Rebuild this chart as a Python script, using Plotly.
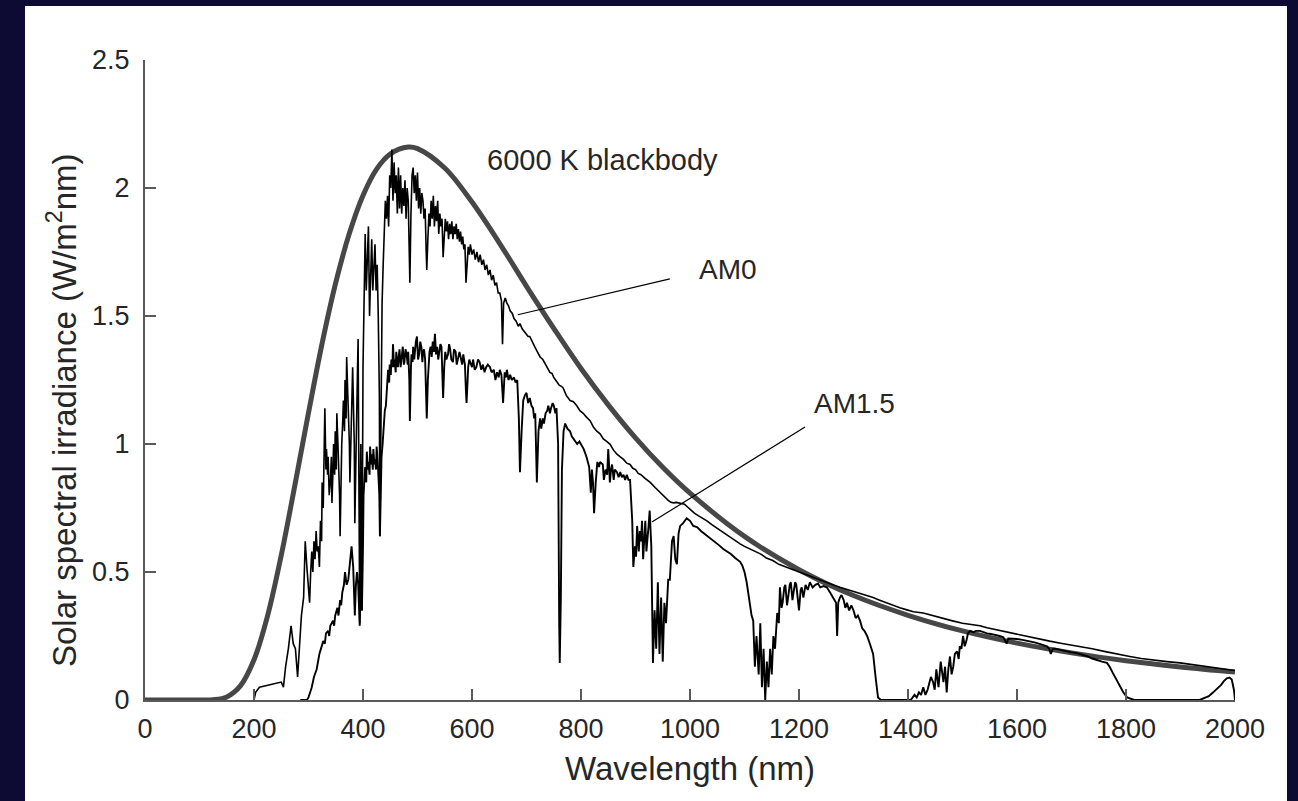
import plotly.graph_objects as go

# ---------------- data ----------------
# 6000 K blackbody curve, (wavelength nm, W/m^2/nm)
bb_points = [(0, 0), (100, 0), (125, 0.001), (150, 0.012), (175, 0.055), (200, 0.157),
             (225, 0.330), (250, 0.565), (275, 0.839), (300, 1.122), (325, 1.393),
             (350, 1.630), (375, 1.823), (400, 1.971), (425, 2.074), (450, 2.133),
             (483, 2.160), (500, 2.154), (550, 2.078), (600, 1.945), (650, 1.786),
             (700, 1.616), (750, 1.452), (800, 1.295), (850, 1.153), (900, 1.024),
             (950, 0.909), (1000, 0.808), (1100, 0.639), (1200, 0.509), (1300, 0.408),
             (1400, 0.331), (1500, 0.270), (1600, 0.222), (1700, 0.184), (1800, 0.153),
             (1900, 0.129), (2000, 0.109)]

# AM0 (extraterrestrial) spectrum
am0_points = [
    (200, 0), (203, 0.03), (210, 0.05), (220, 0.055), (230, 0.06), (240, 0.065), (250, 0.07),
    (254, 0.05), (258, 0.13), (263, 0.2), (268, 0.29), (272, 0.22), (276, 0.2), (280, 0.09),
    (283, 0.2), (287, 0.33), (291, 0.4), (294, 0.62), (297, 0.52), (300, 0.45), (302, 0.38),
    (304, 0.5), (306, 0.58), (308, 0.5), (310, 0.62), (312, 0.55), (314, 0.66), (316, 0.58),
    (318, 0.6), (320, 0.52), (322, 0.7), (324, 0.62), (325, 0.85), (327, 0.75), (328, 0.95),
    (330, 1.14), (332, 0.9), (333, 0.98), (335, 0.88), (336, 0.95), (338, 0.8), (340, 0.85),
    (342, 0.95), (343, 0.77), (345, 0.9), (346, 1.0), (348, 0.88), (349, 1.05), (351, 0.9),
    (352, 1.12), (354, 1.0), (355, 0.95), (357, 0.8), (358, 0.64), (360, 0.9), (361, 1.0),
    (363, 1.1), (364, 1.17), (366, 1.05), (367, 1.25), (369, 1.1), (370, 1.34), (372, 1.2),
    (373, 1.15), (375, 1.0), (376, 0.85), (378, 1.0), (379, 1.1), (381, 1.3), (382, 1.2),
    (384, 1.0), (385, 0.69), (387, 1.0), (388, 1.2), (390, 1.3), (391, 1.41), (392, 0.9),
    (394, 0.3), (395, 0.8), (396, 1.0), (397, 0.6), (398, 0.35), (400, 1.3), (402, 1.6),
    (404, 1.82), (406, 1.6), (408, 1.78), (410, 1.85), (412, 1.5), (414, 1.7), (416, 1.8),
    (418, 1.6), (420, 1.72), (422, 1.78), (424, 1.6), (426, 1.7), (428, 1.5), (430, 1.2),
    (431, 0.64), (433, 1.3), (435, 1.55), (437, 1.7), (439, 1.85), (441, 1.95), (443, 1.88),
    (445, 1.97), (447, 1.85), (449, 2.05), (451, 2.0), (453, 2.15), (455, 1.95), (457, 2.1),
    (459, 1.98), (461, 2.05), (463, 1.9), (465, 2.08), (467, 1.92), (469, 2.05), (471, 1.9),
    (473, 2.0), (475, 1.93), (477, 2.03), (479, 1.88), (481, 2.0), (483, 1.95), (485, 1.8),
    (486, 1.63), (488, 1.9), (490, 2.05), (492, 2.08), (494, 1.98), (496, 2.05), (498, 1.95),
    (500, 2.06), (502, 1.92), (504, 2.0), (506, 1.9), (508, 1.98), (510, 1.95), (512, 1.88),
    (514, 1.92), (516, 1.75), (517, 1.68), (519, 1.8), (521, 1.9), (523, 1.85), (525, 1.95),
    (527, 1.88), (529, 1.97), (531, 1.85), (533, 1.93), (535, 1.87), (537, 1.95), (539, 1.82),
    (541, 1.9), (543, 1.85), (545, 1.88), (547, 1.73), (549, 1.82), (551, 1.88), (553, 1.83),
    (555, 1.87), (557, 1.8), (559, 1.86), (561, 1.82), (563, 1.87), (565, 1.8), (567, 1.85),
    (569, 1.82), (571, 1.86), (573, 1.8), (575, 1.84), (577, 1.79), (579, 1.83), (581, 1.78),
    (583, 1.81), (585, 1.76), (587, 1.78), (589, 1.63), (591, 1.72), (593, 1.77), (595, 1.74),
    (597, 1.78), (600, 1.74), (603, 1.76), (606, 1.72), (609, 1.75), (612, 1.71), (615, 1.74),
    (618, 1.7), (621, 1.72), (624, 1.68), (627, 1.7), (630, 1.66), (633, 1.68), (636, 1.64),
    (639, 1.66), (642, 1.62), (645, 1.63), (648, 1.59), (651, 1.59), (654, 1.56), (656, 1.39),
    (658, 1.55), (661, 1.57), (664, 1.55), (667, 1.54), (670, 1.52), (674, 1.51), (677, 1.49),
    (681, 1.48), (685, 1.46), (688, 1.47), (692, 1.45), (696, 1.44), (700, 1.43), (703, 1.42),
    (706, 1.42), (710, 1.40), (715, 1.38), (720, 1.36), (725, 1.34), (730, 1.33), (735, 1.31),
    (740, 1.295), (743, 1.28), (747, 1.275), (750, 1.26), (755, 1.245), (760, 1.23),
    (764, 1.225), (767, 1.22), (773, 1.19), (780, 1.17), (786, 1.165), (792, 1.15),
    (798, 1.13), (804, 1.12), (810, 1.105), (817, 1.09), (823, 1.065), (829, 1.05),
    (835, 1.04), (841, 1.02), (847, 1.01), (853, 1.0), (860, 0.975), (866, 0.96),
    (872, 0.95), (878, 0.94), (884, 0.925), (890, 0.92), (895, 0.905), (900, 0.9),
    (905, 0.885), (910, 0.88), (918, 0.865), (927, 0.85), (936, 0.83), (945, 0.81),
    (952, 0.795), (960, 0.78), (965, 0.772), (970, 0.77), (975, 0.772), (980, 0.77),
    (985, 0.768), (990, 0.765), (995, 0.755), (1000, 0.745), (1008, 0.73), (1015, 0.72),
    (1023, 0.71), (1031, 0.70), (1040, 0.685), (1050, 0.67), (1060, 0.655), (1070, 0.64),
    (1080, 0.625), (1092, 0.61), (1100, 0.6), (1110, 0.59), (1120, 0.58), (1130, 0.57),
    (1140, 0.555), (1152, 0.545), (1163, 0.53), (1175, 0.52), (1185, 0.512), (1195, 0.505),
    (1205, 0.497), (1214, 0.49), (1222, 0.482), (1230, 0.475), (1240, 0.468), (1250, 0.46),
    (1262, 0.45), (1275, 0.44), (1288, 0.432), (1300, 0.425), (1310, 0.417), (1320, 0.41),
    (1336, 0.40), (1348, 0.39), (1360, 0.38), (1372, 0.37), (1385, 0.36), (1398, 0.352),
    (1410, 0.345), (1428, 0.34), (1445, 0.33), (1460, 0.32), (1480, 0.31), (1500, 0.30),
    (1516, 0.295), (1532, 0.29), (1545, 0.282), (1560, 0.275), (1580, 0.265), (1600, 0.255),
    (1624, 0.245), (1640, 0.238), (1660, 0.23), (1680, 0.222), (1700, 0.215), (1716, 0.21),
    (1738, 0.2), (1760, 0.19), (1785, 0.178), (1807, 0.17), (1828, 0.162), (1850, 0.155),
    (1875, 0.15), (1899, 0.145), (1925, 0.137), (1950, 0.13), (1975, 0.122), (2000, 0.115)]

# AM1.5 (terrestrial) spectrum
am15_points = [
    (285, 0), (297, 0), (300, 0.01), (306, 0.05), (310, 0.09), (315, 0.12), (320, 0.18),
    (324, 0.21), (327, 0.23), (330, 0.22), (332, 0.26), (336, 0.27), (338, 0.25), (340, 0.29),
    (345, 0.31), (347, 0.29), (349, 0.33), (353, 0.36), (355, 0.33), (358, 0.39), (360, 0.37),
    (362, 0.42), (365, 0.45), (367, 0.50), (370, 0.45), (373, 0.47), (376, 0.55), (379, 0.60),
    (382, 0.52), (385, 0.33), (387, 0.45), (389, 0.50), (391, 0.46), (394, 0.29), (396, 0.5),
    (398, 0.35), (400, 0.6), (401, 0.8), (403, 0.88), (404, 0.91), (406, 0.85), (407, 0.97),
    (409, 0.9), (410, 0.93), (412, 0.88), (413, 0.99), (415, 0.92), (416, 0.96), (418, 0.9),
    (419, 0.98), (421, 0.92), (422, 0.94), (424, 0.9), (425, 0.99), (427, 0.93), (428, 0.9),
    (430, 0.8), (431, 0.64), (433, 0.85), (434, 0.95), (436, 1.0), (437, 1.05), (439, 1.1),
    (440, 1.13), (442, 1.15), (443, 1.2), (445, 1.25), (446, 1.29), (448, 1.24), (449, 1.31),
    (451, 1.27), (452, 1.33), (454, 1.3), (455, 1.39), (457, 1.3), (458, 1.33), (460, 1.28),
    (461, 1.36), (463, 1.32), (464, 1.3), (466, 1.35), (467, 1.37), (469, 1.3), (470, 1.33),
    (472, 1.36), (473, 1.38), (475, 1.31), (476, 1.32), (478, 1.37), (480, 1.35), (482, 1.31),
    (483, 1.36), (485, 1.25), (486, 1.09), (488, 1.3), (489, 1.35), (491, 1.32), (492, 1.38),
    (494, 1.33), (495, 1.36), (497, 1.4), (499, 1.42), (501, 1.33), (503, 1.35), (505, 1.4),
    (507, 1.38), (509, 1.32), (510, 1.36), (512, 1.37), (514, 1.33), (516, 1.2), (517, 1.1),
    (519, 1.25), (520, 1.3), (522, 1.36), (524, 1.38), (526, 1.34), (528, 1.4), (530, 1.36),
    (532, 1.43), (534, 1.35), (536, 1.38), (538, 1.33), (540, 1.36), (542, 1.39), (544, 1.38),
    (546, 1.28), (547, 1.18), (549, 1.3), (551, 1.36), (553, 1.33), (556, 1.35), (558, 1.39),
    (560, 1.37), (562, 1.33), (565, 1.32), (567, 1.37), (570, 1.36), (572, 1.31), (575, 1.34),
    (577, 1.36), (580, 1.33), (582, 1.31), (584, 1.35), (587, 1.31), (589, 1.2), (590, 1.16),
    (592, 1.25), (593, 1.3), (595, 1.33), (597, 1.32), (600, 1.3), (602, 1.33), (605, 1.29),
    (608, 1.3), (611, 1.33), (614, 1.32), (617, 1.29), (620, 1.31), (623, 1.28), (626, 1.3),
    (629, 1.31), (633, 1.3), (636, 1.28), (640, 1.29), (643, 1.25), (646, 1.28), (649, 1.26),
    (651, 1.29), (654, 1.27), (656, 1.2), (657, 1.16), (659, 1.24), (660, 1.28), (662, 1.26),
    (664, 1.29), (667, 1.25), (670, 1.27), (673, 1.25), (677, 1.26), (680, 1.24), (683, 1.25),
    (686, 1.1), (688, 0.89), (691, 1.05), (694, 1.17), (697, 1.19), (700, 1.2), (703, 1.16),
    (706, 1.18), (709, 1.15), (712, 1.14), (714, 1.1), (716, 1.12), (719, 0.85), (722, 1.05),
    (725, 1.10), (727, 1.06), (730, 1.10), (732, 1.08), (735, 1.12), (738, 1.13), (740, 1.15),
    (743, 1.12), (745, 1.14), (748, 1.16), (750, 1.15), (753, 1.12), (755, 1.14), (758, 1.0),
    (760, 0.3), (761, 0.145), (763, 0.4), (765, 0.9), (768, 1.05), (771, 1.08), (775, 1.06),
    (780, 1.05), (783, 1.03), (786, 1.02), (790, 1.01), (793, 1.0), (797, 1.01), (800, 1.0),
    (805, 0.98), (810, 0.95), (813, 0.93), (815, 0.91), (818, 0.81), (820, 0.9), (822, 0.85),
    (824, 0.73), (827, 0.85), (830, 0.93), (833, 0.91), (835, 0.93), (840, 0.92), (842, 0.86),
    (845, 0.9), (848, 0.88), (850, 0.98), (853, 0.85), (855, 0.9), (857, 0.92), (860, 0.86),
    (862, 0.9), (866, 0.89), (869, 0.87), (872, 0.89), (875, 0.87), (878, 0.88), (881, 0.86),
    (884, 0.88), (887, 0.86), (890, 0.86), (892, 0.8), (894, 0.7), (896, 0.52), (899, 0.6),
    (901, 0.56), (903, 0.68), (906, 0.58), (908, 0.66), (910, 0.62), (912, 0.7), (914, 0.55),
    (916, 0.64), (918, 0.70), (920, 0.58), (922, 0.62), (924, 0.68), (926, 0.74), (929, 0.6),
    (932, 0.145), (935, 0.35), (938, 0.2), (941, 0.46), (944, 0.18), (947, 0.4), (950, 0.15),
    (953, 0.38), (956, 0.3), (960, 0.47), (963, 0.47), (967, 0.62), (970, 0.64), (973, 0.55),
    (976, 0.53), (979, 0.65), (982, 0.68), (987, 0.69), (994, 0.71), (1000, 0.70),
    (1006, 0.68), (1013, 0.675), (1020, 0.66), (1025, 0.652), (1031, 0.64), (1038, 0.632),
    (1045, 0.62), (1053, 0.605), (1061, 0.59), (1068, 0.58), (1075, 0.57), (1083, 0.555),
    (1092, 0.54), (1096, 0.525), (1100, 0.5), (1104, 0.46), (1107, 0.42), (1110, 0.38),
    (1113, 0.33), (1116, 0.31), (1119, 0.13), (1122, 0.25), (1126, 0.1), (1129, 0.3),
    (1132, 0.05), (1135, 0.2), (1138, 0.0), (1141, 0.15), (1144, 0.05), (1147, 0.2),
    (1150, 0.1), (1153, 0.25), (1156, 0.2), (1160, 0.34), (1163, 0.3), (1165, 0.44),
    (1168, 0.36), (1170, 0.38), (1173, 0.44), (1175, 0.45), (1178, 0.37), (1180, 0.4),
    (1183, 0.45), (1185, 0.46), (1188, 0.39), (1190, 0.42), (1193, 0.46), (1195, 0.45),
    (1200, 0.35), (1203, 0.43), (1205, 0.44), (1208, 0.4), (1212, 0.45), (1216, 0.43),
    (1220, 0.46), (1225, 0.44), (1230, 0.45), (1235, 0.455), (1239, 0.44), (1245, 0.445),
    (1251, 0.44), (1257, 0.42), (1263, 0.40), (1268, 0.38), (1270, 0.25), (1272, 0.38),
    (1275, 0.40), (1278, 0.41), (1282, 0.39), (1285, 0.36), (1288, 0.38), (1292, 0.35),
    (1296, 0.37), (1300, 0.35), (1304, 0.32), (1308, 0.33), (1312, 0.31), (1316, 0.28),
    (1320, 0.27), (1325, 0.25), (1330, 0.22), (1336, 0.18), (1341, 0.08), (1345, 0.01),
    (1350, 0), (1405, 0), (1412, 0.02), (1416, 0.01), (1420, 0.03), (1424, 0.02),
    (1428, 0.05), (1432, 0.02), (1436, 0.04), (1439, 0.07), (1442, 0.09), (1446, 0.07),
    (1449, 0.04), (1452, 0.12), (1456, 0.05), (1460, 0.15), (1465, 0.07), (1468, 0.13),
    (1471, 0.03), (1474, 0.12), (1477, 0.17), (1480, 0.1), (1483, 0.13), (1486, 0.18),
    (1490, 0.19), (1493, 0.16), (1495, 0.21), (1498, 0.2), (1501, 0.25), (1504, 0.21),
    (1507, 0.23), (1510, 0.26), (1514, 0.27), (1520, 0.265), (1525, 0.27), (1532, 0.27),
    (1540, 0.262), (1545, 0.26), (1552, 0.258), (1560, 0.255), (1568, 0.25), (1575, 0.245),
    (1578, 0.235), (1581, 0.22), (1584, 0.24), (1590, 0.24), (1600, 0.238), (1610, 0.235),
    (1617, 0.232), (1624, 0.23), (1632, 0.225), (1640, 0.22), (1648, 0.215), (1655, 0.21),
    (1659, 0.2), (1662, 0.18), (1666, 0.2), (1670, 0.2), (1680, 0.196), (1690, 0.19),
    (1700, 0.186), (1710, 0.183), (1716, 0.18), (1723, 0.176), (1730, 0.17), (1738, 0.162),
    (1747, 0.155), (1756, 0.15), (1765, 0.145), (1770, 0.13), (1776, 0.105), (1782, 0.08),
    (1789, 0.05), (1795, 0.03), (1802, 0.01), (1815, 0), (1935, 0), (1945, 0.01),
    (1952, 0.015), (1960, 0.03), (1968, 0.045), (1975, 0.06), (1980, 0.075), (1985, 0.085),
    (1990, 0.088), (1994, 0.08), (1998, 0.04), (2000, 0)]

x_ticks = [0, 200, 400, 600, 800, 1000, 1200, 1400, 1600, 1800, 2000]
y_ticks = [0, 0.5, 1, 1.5, 2, 2.5]
y_tick_text = ["0", "0.5", "1", "1.5", "2", "2.5"]

bb_nm, bb_val = zip(*bb_points)
am0_nm, am0_val = zip(*am0_points)
am15_nm, am15_val = zip(*am15_points)

# ---------------- figure ----------------
FONT = "Liberation Sans, Arial, sans-serif"
TXT = "#262626"
AX = "#5a5a5a"

fig = go.Figure()
fig.add_trace(go.Scatter(x=list(bb_nm), y=list(bb_val), mode="lines",
                         line=dict(color="#474747", width=5, shape="spline"),
                         name="6000 K blackbody", hoverinfo="skip"))
fig.add_trace(go.Scatter(x=list(am0_nm), y=list(am0_val), mode="lines",
                         line=dict(color="black", width=1.6), name="AM0"))
fig.add_trace(go.Scatter(x=list(am15_nm), y=list(am15_val), mode="lines",
                         line=dict(color="black", width=1.9), name="AM1.5"))

L, R, T, B = 145, 63, 60, 101
W, H = 1298, 801
pw, ph = W - L - R, H - T - B


def px(xp):
    return (xp - L) / pw


def py(yp):
    return (H - B - yp) / ph


shapes = [
    dict(type="rect", xref="paper", yref="paper", x0=px(25), x1=px(1287), y0=py(801), y1=py(6),
         fillcolor="white", line=dict(width=0), layer="below"),
    dict(type="line", xref="x", yref="y", x0=684, y0=1.505, x1=963, y1=1.645,
         line=dict(color="black", width=1.2)),
    dict(type="line", xref="x", yref="y", x0=930, y0=0.695, x1=1211, y1=1.066,
         line=dict(color="black", width=1.2)),
]

annotations = [
    dict(text="6000 K blackbody", x=624, y=2.11, xref="x", yref="y", xanchor="left",
         yanchor="middle", showarrow=False, font=dict(size=29, color=TXT, family=FONT)),
    dict(text="AM0", x=1013, y=1.68, xref="x", yref="y", xanchor="left", yanchor="middle",
         showarrow=False, font=dict(size=28, color=TXT, family=FONT)),
    dict(text="AM1.5", x=1224, y=1.16, xref="x", yref="y", xanchor="left", yanchor="middle",
         showarrow=False, font=dict(size=28, color=TXT, family=FONT)),
    dict(text="Wavelength (nm)", x=px(690), y=py(768), xref="paper", yref="paper",
         xanchor="center", yanchor="middle", showarrow=False,
         font=dict(size=33, color=TXT, family=FONT)),
    dict(text="Solar spectral irradiance (W/m<sup>2</sup>nm)", x=px(62), y=py(411),
         xref="paper", yref="paper", xanchor="center", yanchor="middle", textangle=-90,
         showarrow=False, font=dict(size=33, color=TXT, family=FONT)),
]

fig.update_layout(
    width=W, height=H,
    margin=dict(l=L, r=R, t=T, b=B, pad=0),
    paper_bgcolor="#0d0b34",
    plot_bgcolor="white",
    showlegend=False,
    shapes=shapes,
    annotations=annotations,
    font=dict(family=FONT, color=TXT, size=27),
)
fig.update_xaxes(range=[0, 2000], tickvals=x_ticks, ticktext=[str(v) for v in x_ticks],
                 showgrid=False, zeroline=False, showline=True, linecolor=AX, linewidth=2,
                 ticks="inside", ticklen=11, tickwidth=2, tickcolor=AX,
                 tickfont=dict(size=27, color=TXT, family=FONT), ticklabelstandoff=4)
fig.update_yaxes(range=[0, 2.5], tickvals=y_ticks, ticktext=y_tick_text,
                 showgrid=False, zeroline=False, showline=True, linecolor=AX, linewidth=2,
                 ticks="inside", ticklen=11, tickwidth=2, tickcolor=AX,
                 tickfont=dict(size=27, color=TXT, family=FONT), ticklabelstandoff=8)

fig.write_html("out.html", config={"displayModeBar": False},
               post_script="document.body.style.margin='0';")
